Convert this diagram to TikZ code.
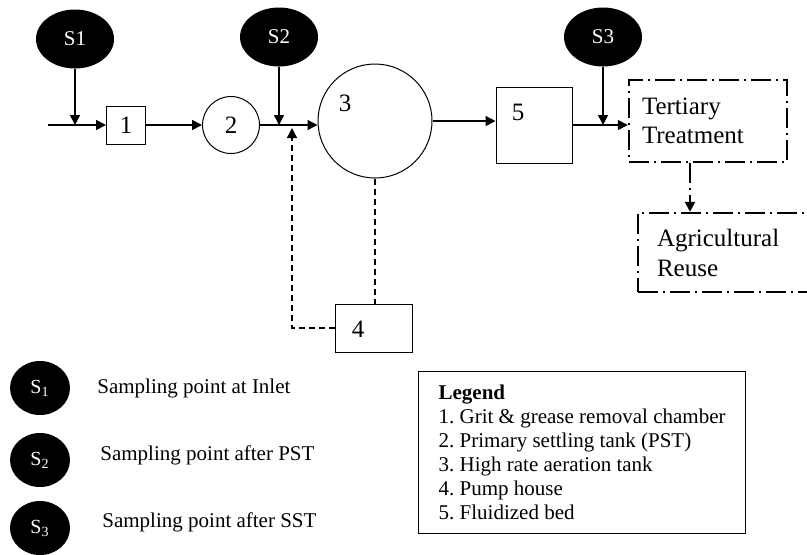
\documentclass[tikz,border=0pt]{standalone}
\usepackage{fontspec}
\setmainfont{Liberation Serif}
\usepackage{tikz}
\usetikzlibrary{arrows.meta, positioning, shapes.geometric}
\frenchspacing

\begin{document}
\begin{tikzpicture}[
  x=0.5pt, y=-0.5pt,
  sample/.style = {ellipse, fill=black, text=white, inner sep=0pt,
                   minimum width=39pt, minimum height=29.5pt,
                   font=\fontsize{10.5}{12}\selectfont},
  keydot/.style = {ellipse, fill=black, text=white, inner sep=0pt,
                   minimum width=30pt, minimum height=27pt,
                   font=\fontsize{10}{12}\selectfont},
  unit/.style   = {draw, line width=0.5pt, inner sep=0pt},
  tank/.style   = {draw, circle, line width=0.5pt, inner sep=0pt},
  stage/.style  = {draw, line width=1.2pt, inner ysep=0pt,
                   dash pattern=on 10pt off 2.5pt on 1pt off 2.5pt,
                   align=left, font=\fontsize{12.5}{14.5}\selectfont},
  flow/.style   = {-{Triangle[length=5pt, width=5pt]}, line width=0.7pt},
  back/.style   = {flow, dash pattern=on 3pt off 2pt},
  chain/.style  = {flow, line width=1.2pt,
                   dash pattern=on 10pt off 2.5pt on 1pt off 2.5pt},
  keytext/.style = {anchor=west, inner sep=0pt,
                    font=\fontsize{10.5}{12}\selectfont},
  every node/.style = {font=\fontsize{12.5}{14.5}\selectfont},
]
\useasboundingbox (0,0) rectangle (807,554);
\clip (0,0) rectangle (807,554);

% sampling points
\node[sample] (s1) at (75,39)  {S1};
\node[sample] (s2) at (279,37) {S2};
\node[sample] (s3) at (603,37) {S3};

% treatment units
\coordinate (in) at (48,125);
\node[unit, minimum width=19.5pt, minimum height=19pt] (u1) at (126,125) {1};
\node[tank, minimum size=28.5pt] (u2) at (231,125) {2};
\node[tank, minimum size=57pt]   (u3) at (375,121) {};
\node (l3) at (345,103) {3};
\node[unit, minimum width=38pt, minimum height=38pt] (u5) at (534,125) {};
\node (l5) at (518,112) {5};
\node[unit, minimum width=38.5pt, minimum height=24pt] (u4) at (374,328) {};
\node (l4) at (358,329) {4};

% tertiary stage and reuse
\node[stage, minimum width=79pt, minimum height=41pt, inner xsep=6.5pt,
      text width=66pt] (tert) at (708,121) {Tertiary\\Treatment};
\node[stage, minimum width=100pt, minimum height=39.5pt, inner xsep=9.5pt,
      text width=81pt, font=\fontsize{12.5}{15}\selectfont]
      (agri) at (738,252.5) {Agricultural\\Reuse};
\coordinate (drop) at (690,0);
\coordinate (join) at (292,128);

% main flow
\draw[flow] (in) -- (u1);
\draw[flow] (u1) -- (u2);
\draw[flow] (u2.east) -- (u2.east -| u3.west);
\draw[flow] (u3.east) -- (u5.west |- u3.east);
\draw[flow] (u5.east) -- (u5.east -| tert.west);
\draw[chain] (tert.south -| drop) -- (agri.north -| drop);

% sampling arrows
\draw[flow] (s1.south) -- (s1 |- in);
\draw[flow] (s2.south) -- (s2 |- u2.east);
\draw[flow] (s3.south) -- (s3 |- u5.east);

% pump house loop
\draw[line width=0.7pt, dash pattern=on 3pt off 2pt] (u3.south) -- (u3.south |- u4.north);
\draw[back] (u4.west) -| (join);

% key
\node[keydot] (k1) at (40,388) {S\textsubscript{1}};
\node[keydot] (k2) at (40,460) {S\textsubscript{2}};
\node[keydot] (k3) at (40,528) {S\textsubscript{3}};
\node[keytext] (t1) at (97,388)  {Sampling point at Inlet};
\node[keytext] (t2) at (100,455) {Sampling point after PST};
\node[keytext] (t3) at (102,522) {Sampling point after SST};

% legend
\node[draw, line width=0.6pt, anchor=north west, minimum width=163.5pt,
      minimum height=81pt, align=left,
      font=\fontsize{10.5}{12}\selectfont] (legend) at (418,371)
  {\textbf{Legend}\\
   1. Grit \& grease removal chamber\\
   2. Primary settling tank (PST)\\
   3. High rate aeration tank\\
   4. Pump house\\
   5. Fluidized bed};

\end{tikzpicture}
\end{document}
